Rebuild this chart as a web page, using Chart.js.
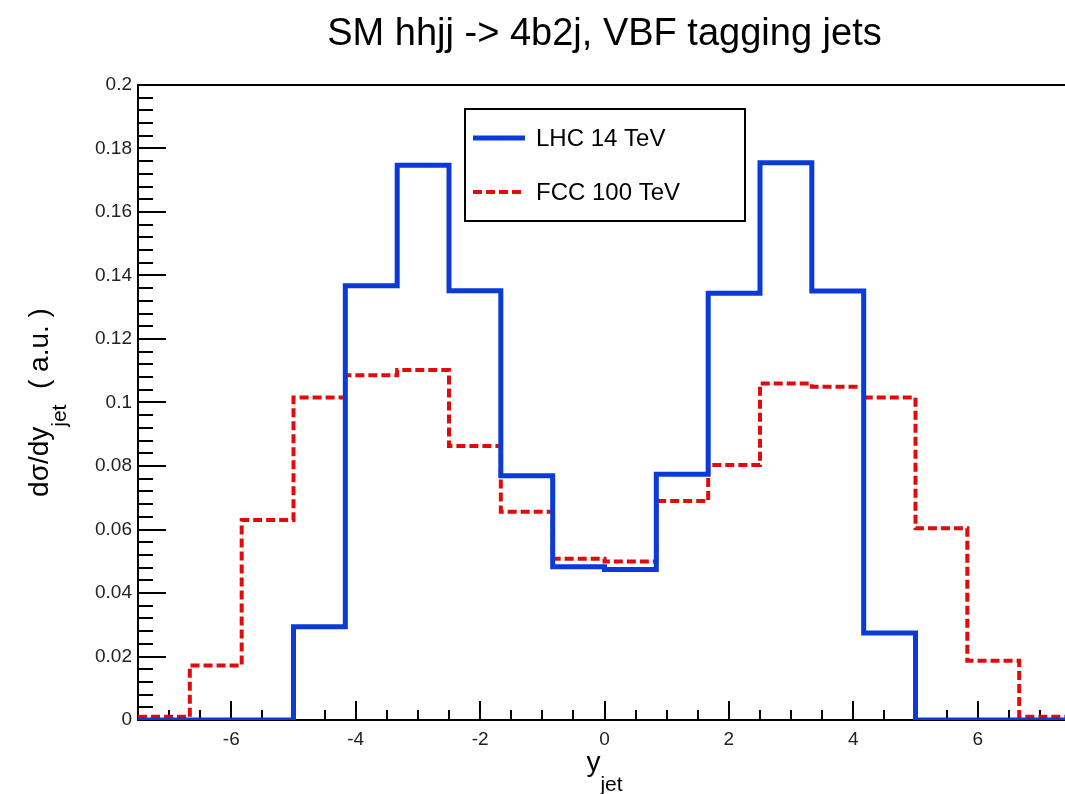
<!DOCTYPE html>
<html>
<head>
<meta charset="utf-8">
<script src="https://cdn.jsdelivr.net/npm/chart.js@4.4.1/dist/chart.umd.min.js"></script>
<style>
  html, body { margin: 0; padding: 0; background: #fff; overflow: hidden; }
  #wrap { width: 1080px; height: 794px; }
</style>
</head>
<body>
<div id="wrap"><canvas id="histChart"></canvas></div>
<script>
// bin edges of the y_jet histogram (18 bins)
const binEdges = [-7.5, -6.667, -5.833, -5.0, -4.167, -3.333, -2.5, -1.667, -0.833, 0,
                  0.833, 1.667, 2.5, 3.333, 4.167, 5.0, 5.833, 6.667, 7.5];
const lhcValues = [0, 0, 0, 0.0294, 0.1368, 0.1747, 0.1352, 0.0769, 0.0483,
                   0.0474, 0.0774, 0.1344, 0.1755, 0.1351, 0.0274, 0, 0, 0];
const fccValues = [0.001, 0.0172, 0.063, 0.1016, 0.1086, 0.1102, 0.0863, 0.0656, 0.0508,
                   0.0499, 0.069, 0.0803, 0.106, 0.105, 0.1016, 0.0604, 0.0187, 0.001];
const seriesNames = ["LHC 14 TeV", "FCC 100 TeV"];

const xTicks = [-6, -4, -2, 0, 2, 4, 6];
const xTickLabels = ["-6", "-4", "-2", "0", "2", "4", "6"];
const yTicks = [0, 0.02, 0.04, 0.06, 0.08, 0.1, 0.12, 0.14, 0.16, 0.18, 0.2];
const yTickLabels = ["0", "0.02", "0.04", "0.06", "0.08", "0.1", "0.12", "0.14", "0.16", "0.18", "0.2"];

const titleText = "SM hhjj -> 4b2j, VBF tagging jets";
const FONT = "'Liberation Sans', Arial, Helvetica, sans-serif";

// histogram -> step points at the left edge of each bin, plus the closing right edge
function toSteps(values) {
    const pts = values.map((v, i) => ({ x: binEdges[i], y: v }));
    pts.push({ x: binEdges[binEdges.length - 1], y: values[values.length - 1] });
    return pts;
}

function drawSubText(ctx, parts, x, y) {
    // parts: [{text, size, dy}] drawn left to right
    let cx = x;
    parts.forEach(p => {
        ctx.font = p.size + "px " + FONT;
        ctx.fillText(p.text, cx, y + p.dy);
        cx += ctx.measureText(p.text).width;
    });
}
function partsWidth(ctx, parts) {
    let w = 0;
    parts.forEach(p => {
        ctx.font = p.size + "px " + FONT;
        w += ctx.measureText(p.text).width;
    });
    return w;
}

const rootStyle = {
    id: "rootStyle",
    beforeDatasetsDraw(chart) {
        const ctx = chart.ctx;
        const a = chart.chartArea;
        const xs = chart.scales.x, ys = chart.scales.y;
        ctx.save();
        ctx.strokeStyle = "#000";
        ctx.lineWidth = 2;
        ctx.strokeRect(a.left, a.top, a.right - a.left, a.bottom - a.top);

        // inward ticks on the y axis
        ctx.beginPath();
        for (let v = 0; v <= 0.2001; v += 0.004) {
            const py = Math.round(ys.getPixelForValue(v));
            const major = Math.abs(v / 0.02 - Math.round(v / 0.02)) < 1e-6;
            ctx.moveTo(a.left, py);
            ctx.lineTo(a.left + (major ? 28 : 15), py);
        }
        // inward ticks on the x axis
        for (let v = -7; v <= 7.001; v += 0.5) {
            const px = Math.round(xs.getPixelForValue(v));
            const major = Math.abs(v / 2 - Math.round(v / 2)) < 1e-6;
            ctx.moveTo(px, a.bottom);
            ctx.lineTo(px, a.bottom - (major ? 19 : 10));
        }
        ctx.stroke();
        ctx.restore();
    },
    afterDraw(chart) {
        const ctx = chart.ctx;
        const a = chart.chartArea;
        const midX = (a.left + a.right) / 2;
        const midY = (a.top + a.bottom) / 2;
        ctx.save();
        ctx.fillStyle = "#000";
        ctx.textBaseline = "alphabetic";

        // title
        ctx.font = "38px " + FONT;
        ctx.textAlign = "center";
        ctx.fillText(titleText, midX, 45);
        ctx.textAlign = "left";

        // x axis title
        const xParts = [{ text: "y", size: 28, dy: 0 }, { text: "jet", size: 21, dy: 20 }];
        drawSubText(ctx, xParts, midX - partsWidth(ctx, xParts) / 2, 771);

        // y axis title
        const yParts = [{ text: "d\u03C3/dy", size: 28, dy: 0 }, { text: "jet", size: 21, dy: 18 },
                        { text: "  ( a.u. )", size: 28, dy: 0 }];
        ctx.translate(48, midY);
        ctx.rotate(-Math.PI / 2);
        drawSubText(ctx, yParts, -partsWidth(ctx, yParts) / 2, 0);
        ctx.setTransform(1, 0, 0, 1, 0, 0);

        // legend
        const lx = 465, ly = 109, lw = 280, lh = 112;
        ctx.fillStyle = "#fff";
        ctx.fillRect(lx, ly, lw, lh);
        ctx.strokeStyle = "#000";
        ctx.lineWidth = 2;
        ctx.strokeRect(lx, ly, lw, lh);
        const rows = [138, 192];
        chart.data.datasets.forEach((ds, i) => {
            ctx.beginPath();
            ctx.strokeStyle = ds.borderColor;
            ctx.lineWidth = ds.borderWidth;
            ctx.setLineDash(ds.borderDash || []);
            ctx.moveTo(473, rows[i]);
            ctx.lineTo(525, rows[i]);
            ctx.stroke();
            ctx.setLineDash([]);
            ctx.fillStyle = "#000";
            ctx.font = "24px " + FONT;
            ctx.textBaseline = "middle";
            ctx.fillText(ds.label, 536, rows[i] + 1);
        });
        ctx.restore();
    }
};

const ctx = document.getElementById("histChart").getContext("2d");
new Chart(ctx, {
    type: "line",
    data: {
        datasets: [
            {
                label: seriesNames[0],
                data: toSteps(lhcValues),
                stepped: "before",
                borderColor: "#0a3bd8",
                borderWidth: 5,
                pointRadius: 0,
                fill: false
            },
            {
                label: seriesNames[1],
                data: toSteps(fccValues),
                stepped: "before",
                borderColor: "#e00b0b",
                borderWidth: 4,
                borderDash: [9, 4],
                pointRadius: 0,
                fill: false
            }
        ]
    },
    options: {
        responsive: true,
        maintainAspectRatio: false,
        animation: false,
        layout: { padding: { top: 85, right: 9, left: 0, bottom: 0 } },
        plugins: { legend: { display: false }, tooltip: { enabled: false }, title: { display: false } },
        scales: {
            x: {
                type: "linear",
                min: -7.5,
                max: 7.5,
                afterBuildTicks: axis => { axis.ticks = xTicks.map(v => ({ value: v })); },
                afterFit: axis => { axis.height = 74; },
                grid: { display: false, drawTicks: false },
                border: { display: false },
                ticks: {
                    autoSkip: false,
                    maxRotation: 0,
                    padding: 8,
                    color: "#222",
                    font: { family: FONT, size: 19 },
                    callback: v => xTickLabels[xTicks.indexOf(v)]
                }
            },
            y: {
                min: 0,
                max: 0.2,
                afterBuildTicks: axis => { axis.ticks = yTicks.map(v => ({ value: v })); },
                afterFit: axis => { axis.width = 138; },
                grid: { display: false, drawTicks: false },
                border: { display: false },
                ticks: {
                    autoSkip: false,
                    padding: 6,
                    color: "#222",
                    font: { family: FONT, size: 19 },
                    callback: v => yTickLabels[yTicks.findIndex(t => Math.abs(t - v) < 1e-9)]
                }
            }
        }
    },
    plugins: [rootStyle]
});
</script>
</body>
</html>
